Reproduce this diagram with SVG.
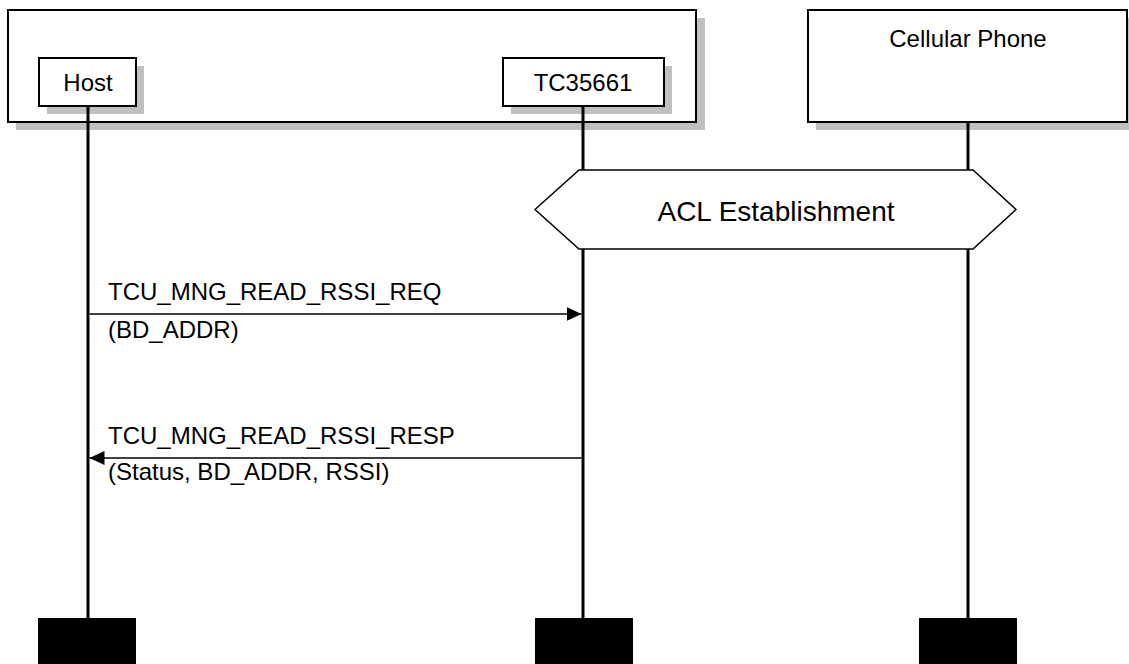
<svg xmlns="http://www.w3.org/2000/svg" width="1129" height="664" viewBox="0 0 1129 664">
<style>
text{font-family:"Liberation Sans",Arial,sans-serif;fill:#000}
.box{fill:#fff;stroke:#000;stroke-width:2}
.shadow{fill:#c0c0c0}
.life{stroke:#000;stroke-width:3;fill:none}
.msg{stroke:#000;stroke-width:1.5;fill:none}
.lbl{font-size:24px}
.end{fill:#000}
</style>
<defs>
<marker id="ah" viewBox="0 0 15 14" refX="15" refY="7" markerWidth="15" markerHeight="14" markerUnits="userSpaceOnUse" orient="auto">
<path d="M0,0 L15,7 L0,14 Z" fill="#000"/>
</marker>
</defs>
<rect width="1129" height="664" fill="#fff"/>
<g id="system">
<rect class="shadow" x="16" y="18" width="689" height="112"/>
<rect class="box" x="8" y="10" width="688" height="112"/>
</g>
<g id="host">
<rect class="shadow" x="47" y="66" width="97" height="48"/>
<rect class="box" x="39" y="58" width="97" height="48"/>
<text class="lbl" x="88" y="91" text-anchor="middle">Host</text>
</g>
<g id="tc35661">
<rect class="shadow" x="511" y="66" width="161" height="48"/>
<rect class="box" x="503" y="58" width="161" height="48"/>
<text class="lbl" x="583" y="91" text-anchor="middle">TC35661</text>
</g>
<g id="phone">
<rect class="shadow" x="816" y="18" width="320" height="112"/>
<rect class="box" x="808" y="10" width="319" height="112"/>
<text class="lbl" x="968" y="47" text-anchor="middle">Cellular Phone</text>
</g>
<g id="lifelines">
<line class="life" x1="88" y1="106" x2="88" y2="618"/>
<line class="life" x1="583" y1="106" x2="583" y2="170"/>
<line class="life" x1="583" y1="249" x2="583" y2="618"/>
<line class="life" x1="968" y1="123" x2="968" y2="170"/>
<line class="life" x1="968" y1="249" x2="968" y2="618"/>
</g>
<g id="acl">
<polygon points="535,209.5 579,170 973,170 1016,209.5 973,249 579,249" fill="#fff" stroke="#000" stroke-width="1.5"/>
<text x="776" y="221" text-anchor="middle" font-size="28">ACL Establishment</text>
</g>
<g id="connectors">
<line class="msg" x1="89.5" y1="314" x2="581.5" y2="314" marker-end="url(#ah)"/>
<line class="msg" x1="581.5" y1="458" x2="89.5" y2="458" marker-end="url(#ah)"/>
</g>
<g id="labels">
<text class="lbl" x="108" y="300">TCU_MNG_READ_RSSI_REQ</text>
<text class="lbl" x="108" y="338">(BD_ADDR)</text>
<text class="lbl" x="108" y="444">TCU_MNG_READ_RSSI_RESP</text>
<text class="lbl" x="108" y="480">(Status, BD_ADDR, RSSI)</text>
</g>
<g id="ends">
<rect class="end" x="38" y="618" width="98" height="46"/>
<rect class="end" x="535" y="618" width="98" height="46"/>
<rect class="end" x="919" y="618" width="98" height="46"/>
</g>
</svg>
